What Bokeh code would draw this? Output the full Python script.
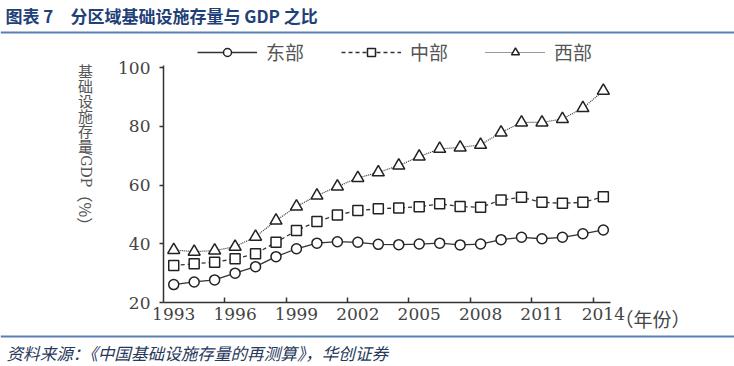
import math
from bokeh.plotting import figure
from bokeh.models import Range1d, FixedTicker, Label, Span, Legend, LegendItem
from bokeh.embed import file_html
from bokeh.resources import INLINE

# ---------------- data ----------------
years = list(range(1993, 2015))
east = [26.1, 27.0, 27.7, 30.0, 32.2, 35.6, 38.3, 40.2, 40.7, 40.5, 39.8,
        39.7, 39.9, 40.2, 39.6, 39.9, 41.4, 42.2, 41.7, 42.2, 43.4, 44.7]
central = [32.6, 33.2, 33.7, 34.9, 36.6, 40.5, 44.5, 47.6, 49.8, 51.3, 51.9,
           52.2, 52.6, 53.6, 52.7, 52.4, 54.9, 55.8, 54.1, 53.8, 54.1, 56.0]
west = [37.9, 37.3, 37.7, 39.0, 42.4, 47.9, 52.7, 56.4, 59.5, 62.4, 64.3,
        66.6, 69.7, 72.3, 72.8, 73.7, 77.9, 81.3, 81.3, 82.5, 86.2, 92.1]
series_names = ["东部", "中部", "西部"]
x_tick_years = [1993, 1996, 1999, 2002, 2005, 2008, 2011, 2014]
y_ticks = [20, 40, 60, 80, 100]
title_text = "图表 7\u3000分区域基础设施存量与 GDP 之比"
source_text = "资料来源：《中国基础设施存量的再测算》，华创证券"
ylabel_cjk = "基础设施存量"
ylabel_latin = "/GDP"
ylabel_pct = "（%）"
xunit_text = "（年份）"

# ---------------- geometry (page pixels) ----------------
W, H = 734, 366
PL, PR, PT, PB = 163, 610, 65, 302          # plot area box
X_LO, X_HI = 1992.5, 2014.35                # data extent of the axes
Y_LO, Y_HI = 20.0, 100.7

sx = (X_HI - X_LO) / (PR - PL)
sy = (Y_HI - Y_LO) / (PB - PT)
x_range = Range1d(X_LO - PL * sx, X_HI + (W - PR) * sx)
y_range = Range1d(Y_LO - (H - PB) * sy, Y_HI + PT * sy)

axis_col = "#333333"
text_col = "#444444"
label_col = "#555555"
blue_line = "#5b7fb5"

p = figure(width=W, height=H, output_backend="svg", toolbar_location=None,
           x_range=x_range, y_range=y_range, min_border=0)
p.outline_line_color = None
p.xgrid.visible = False
p.ygrid.visible = False
p.background_fill_color = "white"
p.border_fill_color = "white"

xa = p.xaxis[0]
xa.fixed_location = Y_LO
xa.bounds = (X_LO, X_HI)
xa.ticker = FixedTicker(ticks=x_tick_years,
                        minor_ticks=[t + 2.5 for t in x_tick_years[:-1]])
xa.axis_line_color = axis_col
xa.axis_line_width = 1.5
xa.major_tick_in = 0
xa.major_tick_out = 0
xa.minor_tick_in = 5
xa.minor_tick_out = 0
xa.minor_tick_line_color = axis_col
xa.minor_tick_line_width = 1.5
xa.major_label_text_font = "DejaVu Serif"
xa.major_label_text_font_size = "17px"
xa.major_label_text_color = text_col
xa.major_label_standoff = 5

ya = p.yaxis[0]
ya.fixed_location = X_LO
ya.bounds = (Y_LO, Y_HI)
ya.ticker = FixedTicker(ticks=y_ticks)
ya.axis_line_color = axis_col
ya.axis_line_width = 1.5
ya.major_tick_in = 0
ya.major_tick_out = 4
ya.major_tick_line_color = axis_col
ya.major_tick_line_width = 1.5
ya.minor_tick_line_color = None
ya.major_label_text_font = "DejaVu Serif"
ya.major_label_text_font_size = "17px"
ya.major_label_text_color = text_col
ya.major_label_standoff = 9

line_col = "#333333"
mk_col = "#222222"

l1 = p.line(years, east, line_color=line_col, line_width=1.3)
s1 = p.scatter(years, east, marker="circle", size=10, fill_color="white",
               line_color=mk_col, line_width=1.5)
l2 = p.line(years, central, line_color=line_col, line_width=1.3, line_dash="4 3")
s2 = p.scatter(years, central, marker="square", size=10, fill_color="white",
               line_color=mk_col, line_width=1.5)
l3 = p.line(years, west, line_color=line_col, line_width=1.2, line_dash="1 1")
s3 = p.scatter(years, west, marker="triangle", size=12, fill_color="white",
               line_color=mk_col, line_width=1.5)

lg = Legend(items=[LegendItem(label=series_names[0], renderers=[l1, s1]),
                   LegendItem(label=series_names[1], renderers=[l2, s2]),
                   LegendItem(label=series_names[2], renderers=[l3, s3])],
            location=(197, H - 65), orientation="horizontal",
            border_line_alpha=0, background_fill_alpha=0, padding=0, margin=0,
            glyph_width=60, glyph_height=20, label_standoff=9, label_width=48,
            spacing=27, label_text_font="Noto Sans CJK SC",
            label_text_font_size="19px", label_text_color=label_col)
p.add_layout(lg)


# ---------------- texts & rules (screen px; frame == whole canvas) ----------------
def lab(text, x, y_page, **kw):
    p.add_layout(Label(text=text, x=x, y=H - y_page, x_units="screen",
                       y_units="screen", **kw))


lab(title_text, 5, 15, text_font="Noto Sans CJK SC", text_font_size="17px",
    text_font_style="bold", text_color="#1f4178", text_baseline="middle",
    text_align="left")
p.add_layout(Span(location=H - 32, location_units="screen", dimension="width",
                  line_color=blue_line, line_width=2))
p.add_layout(Span(location=H - 336, location_units="screen", dimension="width",
                  line_color=blue_line, line_width=2))
lab(source_text, 6, 352, text_font="Noto Sans CJK SC", text_font_size="16.6px",
    text_font_style="italic", text_color="#27385a", text_baseline="middle",
    text_align="left")

# vertical (stacked) y-axis title
CH_PITCH = 15
for i, ch in enumerate(ylabel_cjk):
    lab(ch, 85, 59 + i * CH_PITCH, text_font="Noto Sans CJK SC",
        text_font_size="15px", text_color=label_col, text_align="center",
        text_baseline="top")
y_after = 59 + len(ylabel_cjk) * CH_PITCH
lab(ylabel_latin, 85, y_after + 1, text_font="DejaVu Serif", text_font_size="14px",
    text_color=label_col, text_align="left", text_baseline="middle",
    angle=-math.pi / 2)
lab(ylabel_pct, 85, y_after + 37, text_font="Noto Sans CJK SC", text_font_size="16px",
    text_color=label_col, text_align="left", text_baseline="middle",
    angle=-math.pi / 2)

lab(xunit_text, 614, 318, text_font="Noto Sans CJK SC", text_font_size="19px",
    text_color=text_col, text_align="left", text_baseline="middle")

open("out.html", "w").write(file_html(p, INLINE))
